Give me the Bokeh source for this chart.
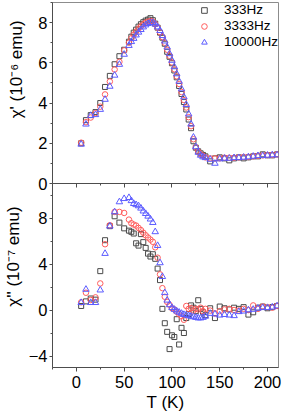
from bokeh.plotting import figure
from bokeh.models import Range1d, LinearAxis, SingleIntervalTicker, CustomJSTickFormatter
from bokeh.layouts import column
from bokeh.embed import file_html
from bokeh.resources import INLINE

# ---------------- data ----------------
T = [5, 10, 15, 20, 25, 30, 35, 40, 45, 50, 55,
     57.5, 60, 62.5, 65, 67.5, 70, 72.5, 75, 77.5, 80, 82.5, 85, 87.5, 90, 92.5,
     95, 97.5, 100, 102.5, 105, 107.5, 110, 112.5, 115, 117.5, 120, 122.5, 125,
     127.5, 130, 132.5,
     135, 140, 145, 150, 155, 160, 165, 170, 175, 180, 185, 190, 195, 200, 205, 210]

# chi' (10^-6 emu)
chi1_333 = [2.00, 3.15, 3.40, 3.55, 4.00, 4.80, 5.35, 5.93, 6.33, 6.65, 7.05,
            7.30, 7.50, 7.65, 7.80, 7.92, 8.02, 8.10, 8.15, 8.22, 8.12, 7.95, 7.75, 7.50, 7.25, 6.95,
            6.55, 6.30, 5.98, 5.62, 5.28, 4.85, 4.45, 4.05, 3.68, 3.18, 2.75, 2.10, 1.78,
            1.60, 1.50, 1.42,
            1.35, 1.10, 1.25, 1.30, 1.25, 1.15, 1.25, 1.30, 1.25, 1.30, 1.35, 1.35, 1.45, 1.40, 1.40, 1.45]
chi1_3333 = [2.03, 3.05, 3.28, 3.50, 3.82, 4.43, 5.07, 5.67, 6.05, 6.62, 7.00,
             7.22, 7.40, 7.55, 7.70, 7.82, 7.92, 8.00, 8.05, 8.08, 8.05, 7.92, 7.75, 7.52, 7.28, 7.00,
             6.65, 6.35, 6.02, 5.68, 5.33, 4.95, 4.55, 4.15, 3.78, 3.30, 2.85, 2.20, 1.80,
             1.58, 1.45, 1.38,
             1.30, 1.25, 1.25, 1.25, 1.28, 1.28, 1.28, 1.30, 1.32, 1.32, 1.35, 1.38, 1.40, 1.42, 1.42, 1.45]
chi1_10000 = [1.95, 2.95, 3.38, 3.42, 3.68, 4.18, 4.83, 5.38, 5.92, 6.42, 6.86,
              7.05, 7.21, 7.38, 7.52, 7.65, 7.78, 7.88, 7.95, 8.00, 8.00, 7.92, 7.78, 7.60, 7.35, 7.08,
              6.78, 6.45, 6.12, 5.80, 5.45, 5.08, 4.70, 4.30, 3.92, 3.45, 2.95, 2.30, 1.82,
              1.55, 1.40, 1.32,
              1.28, 1.20, 1.00, 1.22, 1.25, 1.25, 1.28, 1.28, 1.30, 1.32, 1.35, 1.38, 1.38, 1.40, 1.42, 1.42]

# chi'' (10^-7 emu)
chi2_333 = [0.35, 0.75, 1.00, 0.90, 3.38, 6.07, 7.29, 8.15, 7.60, 7.10, 6.90,
            6.80, 6.65, 5.80, 5.60, 6.60, 5.90, 5.40, 4.90, 4.65, 4.85, 4.45, 3.60, 2.60, 0.10, -1.15,
            -1.90, -3.40, -2.20, -2.35, -0.80, -3.00, -1.55, -2.00, -0.70, -0.35, 0.40, 0.20, -0.10,
            0.85, 0.10, -0.20,
            -0.45, 0.15, -0.70, 0.30, 0.15, 0.05, 0.20, 0.10, 0.25, -0.40, -0.20, 0.20, 0.30, 0.15, 0.25, 0.35]
chi2_3333 = [0.67, 1.50, 0.87, 1.10, 2.31, 5.72, 7.37, 8.53, 8.53, 8.44, 7.86,
             7.55, 7.43, 7.34, 7.14, 6.95, 6.72, 6.50, 6.30, 6.12, 5.93, 5.45, 4.55, 3.10, 1.90, 1.15,
             0.70, 0.45, 0.15, 0.05, -0.15, -0.35, -0.55, -0.85, 0.35, 0.10, 0.15, -0.05, 0.10,
             0.05, 0.20, -0.10,
             0.10, -0.05, -0.30, -0.10, 0.05, 0.10, 0.00, -0.05, 0.10, 0.00, 0.40, 0.10, 0.30, 0.25, 0.20, 0.35]
chi2_10000 = [0.64, 1.79, 0.64, 0.64, 1.73, 4.91, 7.29, 8.53, 9.40, 9.68, 9.77,
              9.50, 9.25, 9.15, 9.05, 8.85, 8.60, 8.38, 8.15, 7.90, 7.60, 6.80, 5.60, 4.10, 2.90, 1.50,
              0.85, 0.45, 0.20, 0.05, -0.10, -0.20, -0.30, -0.40, -0.45, -0.50, -0.55, -0.60, -0.65,
              -0.70, -0.70, -0.65,
              -0.55, -0.30, -0.35, -0.45, -0.40, -0.45, -0.50, -0.15, -0.10, 0.00, 0.05, 0.15, 0.20, 0.20, 0.25, 0.35]

series_labels = ["333Hz", "3333Hz", "10000Hz"]
x_ticks_interval = 50

# ---------------- styling ----------------
FONT = "Liberation Sans"
AX = "#4d4d4d"
OUT = "#8c8c8c"
C_SQ = "#4a4a4a"
C_CI = "#ff5c5c"
C_TR = "#5c5cff"
OVERLAP = 9  # room below the top frame so its "0" label is not clipped

x_range = Range1d(-25, 211.5)


def style_yaxis(ax, interval, standoff):
    ax.ticker = SingleIntervalTicker(interval=interval, num_minor_ticks=2)
    ax.major_tick_in = 0
    ax.major_tick_out = 3
    ax.minor_tick_in = 0
    ax.minor_tick_out = 2
    ax.axis_line_color = AX
    ax.major_tick_line_color = AX
    ax.minor_tick_line_color = AX
    ax.major_label_text_font = FONT
    ax.major_label_text_font_size = "16.5px"
    ax.major_label_text_color = "black"
    ax.major_label_standoff = 2
    ax.axis_label_text_font = FONT
    ax.axis_label_text_font_size = "17px"
    ax.axis_label_text_font_style = "normal"
    ax.axis_label_text_color = "black"
    ax.axis_label_standoff = standoff


# top panel
p1 = figure(width=283, height=183 + OVERLAP, x_range=x_range, y_range=Range1d(0, 9),
            output_backend="svg", toolbar_location=None, x_axis_location=None,
            min_border_left=52, min_border_right=5, min_border_top=2, min_border_bottom=OVERLAP)
p1.grid.visible = False
p1.outline_line_color = OUT
p1.background_fill_color = "white"
p1.border_fill_color = "white"
style_yaxis(p1.yaxis[0], 2, 9)
p1.yaxis[0].axis_label = "\u00a0" * 10 + "\u03c7' (10\u207b\u2076 emu)"

p1.scatter(T, chi1_333, marker="square", size=5, fill_color=None, line_color=C_SQ,
           line_width=1, legend_label=series_labels[0])
p1.scatter(T, chi1_3333, marker="circle", size=5.5, fill_color=None, line_color=C_CI,
           line_width=1, legend_label=series_labels[1])
p1.scatter(T, chi1_10000, marker="triangle", size=6.5, fill_color=None, line_color=C_TR,
           line_width=1, legend_label=series_labels[2])

lg = p1.legend[0]
lg.location = "top_right"
lg.border_line_color = None
lg.background_fill_alpha = 0
lg.label_text_font = FONT
lg.label_text_font_size = "13.5px"
lg.label_text_color = "black"
lg.glyph_width = 20
lg.glyph_height = 14
lg.label_height = 14
lg.spacing = 1
lg.padding = 6
lg.margin = 0
lg.label_standoff = 10

# bottom panel (pulled up so its frame starts where the top frame ends)
p2 = figure(width=283, height=234, x_range=x_range, y_range=Range1d(-5, 11),
            output_backend="svg", toolbar_location=None,
            min_border_left=52, min_border_right=5, min_border_top=0, min_border_bottom=50,
            margin=(-OVERLAP, 0, 0, 0))
p2.grid.visible = False
p2.outline_line_color = OUT
p2.background_fill_color = "white"
p2.border_fill_alpha = 0
style_yaxis(p2.yaxis[0], 4, 3)
p2.yaxis[0].axis_label = "\u00a0" * 8 + "\u03c7'' (10\u207b\u2077 emu)"

xa = p2.xaxis[0]
xa.ticker = SingleIntervalTicker(interval=x_ticks_interval, num_minor_ticks=2)
xa.major_tick_in = 0
xa.major_tick_out = 4
xa.minor_tick_in = 0
xa.minor_tick_out = 2
xa.axis_line_color = AX
xa.major_tick_line_color = AX
xa.minor_tick_line_color = AX
xa.major_label_text_font = FONT
xa.major_label_text_font_size = "16.5px"
xa.major_label_text_color = "black"
xa.major_label_standoff = 4
xa.axis_label = "T (K)"
xa.axis_label_text_font = FONT
xa.axis_label_text_font_size = "17px"
xa.axis_label_text_font_style = "normal"
xa.axis_label_text_color = "black"
xa.axis_label_standoff = 2

# ticks of the shared boundary (top panel's bottom axis pointing down)
top_ax = LinearAxis(ticker=SingleIntervalTicker(interval=x_ticks_interval, num_minor_ticks=2),
                    formatter=CustomJSTickFormatter(code="return ''"),
                    major_tick_in=4, major_tick_out=0, minor_tick_in=2, minor_tick_out=0,
                    major_label_text_font_size="0px", major_label_standoff=0,
                    axis_line_color=AX, major_tick_line_color=AX, minor_tick_line_color=AX)
p2.add_layout(top_ax, "above")

p2.scatter(T, chi2_333, marker="square", size=5, fill_color=None, line_color=C_SQ, line_width=1)
p2.scatter(T, chi2_3333, marker="circle", size=5.5, fill_color=None, line_color=C_CI, line_width=1)
p2.scatter(T, chi2_10000, marker="triangle", size=6.5, fill_color=None, line_color=C_TR, line_width=1)

layout = column(p1, p2, spacing=0)

open("out.html", "w").write(file_html(layout, INLINE))
